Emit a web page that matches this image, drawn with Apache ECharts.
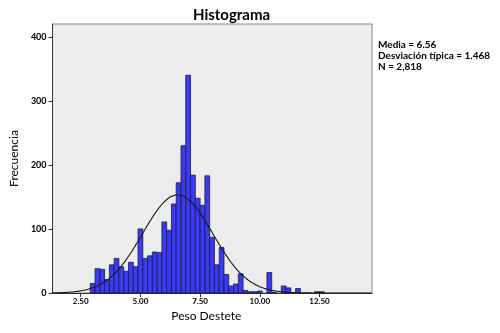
<!DOCTYPE html>
<html>
<head>
<meta charset="utf-8">
<script src="https://cdn.jsdelivr.net/npm/echarts@6/dist/echarts.min.js"></script>
<style>html,body{margin:0;padding:0;background:#fff}#c{width:500px;height:333px}</style>
</head>
<body>
<div id="c"></div>
<script>
// Bin centers (Peso Destete) and frequencies
var binCenters = [3.0,3.2,3.4,3.6,3.8,4.0,4.2,4.4,4.6,4.8,5.0,5.2,5.4,5.6,5.8,6.0,6.2,6.4,6.6,6.8,7.0,7.2,7.4,7.6,7.8,8.0,8.2,8.4,8.6,8.8,9.0,9.2,9.4,9.6,9.8,10.0,10.2,10.4,10.6,10.8,11.0,11.2,11.4,11.6,11.8,12.0,12.2,12.4,12.6];
var frequencies = [15,38,37,21,44,54,41,34,48,41,100,54,58,64,63,111,98,139,172,230,340,184,148,137,183,87,44,71,29,11,14,30,4,2,2,3,0,32,1,0,11,8,0,7,0,0,0,2,2];
var xTickValues = [2.5,5.0,7.5,10.0,12.5];
var yTickValues = [0,100,200,300,400];
var statsLines = ['Media = 6.56','Desviación típica = 1.468','N = 2,818'];
var mean = 6.56, sd = 1.468, nObs = 2818, binWidth = 0.2;
var xMin = 1.32, xMax = 14.7;

// normal curve defined by the reported statistics
var curve = [];
for (var x = xMin; x <= xMax + 1e-9; x += 0.05) {
  var z = (x - mean) / sd;
  curve.push([x, nObs * binWidth / (sd * Math.sqrt(2 * Math.PI)) * Math.exp(-0.5 * z * z)]);
}

var FONT = 'Lato';
var chart = echarts.init(document.getElementById('c'), null, {renderer: 'canvas'});
chart.setOption({
  animation: false,
  backgroundColor: '#fff',
  title: {
    text: 'Histograma', left: 188, top: 3,
    textStyle: {fontFamily: FONT, fontWeight: 'bold', fontSize: 15, color: '#000'}
  },
  grid: {left: 52, top: 24, width: 320, height: 269, show: true, backgroundColor: '#ececec', borderColor: '#8a8a8a', borderWidth: 1},
  xAxis: {
    type: 'value', min: xMin, max: xMax,
    name: 'Peso Destete', nameLocation: 'middle', nameGap: 17,
    nameTextStyle: {fontFamily: FONT, fontSize: 12, color: '#000', padding: [0, 12, 0, 0]},
    axisLine: {show: true, onZero: false, lineStyle: {color: '#333', width: 1}},
    axisTick: {show: true, customValues: xTickValues, length: 4, lineStyle: {color: '#333'}},
    axisLabel: {customValues: xTickValues, formatter: function (v) { return v.toFixed(2); }, fontFamily: FONT, fontWeight: 'bold', fontSize: 8, color: '#000', margin: 4},
    splitLine: {show: false}
  },
  yAxis: {
    type: 'value', min: 0, max: 420,
    name: 'Frecuencia', nameLocation: 'middle', nameGap: 30,
    nameTextStyle: {fontFamily: FONT, fontSize: 12, color: '#000'},
    axisLine: {show: true, lineStyle: {color: '#333', width: 1}},
    axisTick: {show: true, customValues: yTickValues, length: 4, lineStyle: {color: '#333'}},
    axisLabel: {customValues: yTickValues, fontFamily: FONT, fontWeight: 'bold', fontSize: 9, color: '#000', margin: 6},
    splitLine: {show: false}
  },
  series: [
    {
      type: 'custom',
      data: binCenters.map(function (c, i) { return [c, frequencies[i]]; }),
      renderItem: function (params, api) {
        var c = api.value(0), v = api.value(1);
        if (!v) return null;
        var p0 = api.coord([c - binWidth / 2, v]);
        var p1 = api.coord([c + binWidth / 2, 0]);
        return {
          type: 'rect',
          shape: {x: p0[0], y: p0[1], width: p1[0] - p0[0], height: p1[1] - p0[1]},
          style: {fill: '#3a3af6', stroke: '#1c1c3c', lineWidth: 0.8}
        };
      },
      encode: {x: 0, y: 1}
    },
    {
      type: 'line', data: curve, showSymbol: false, smooth: true,
      lineStyle: {color: '#1a1a1a', width: 1.1}, z: 5
    }
  ],
  graphic: [{
    type: 'text', left: 378, top: 39,
    style: {text: statsLines.join('\n'), fontFamily: FONT, fontWeight: 'bold', fontSize: 10, lineHeight: 11, fill: '#000'}
  }]
});
</script>
</body>
</html>
